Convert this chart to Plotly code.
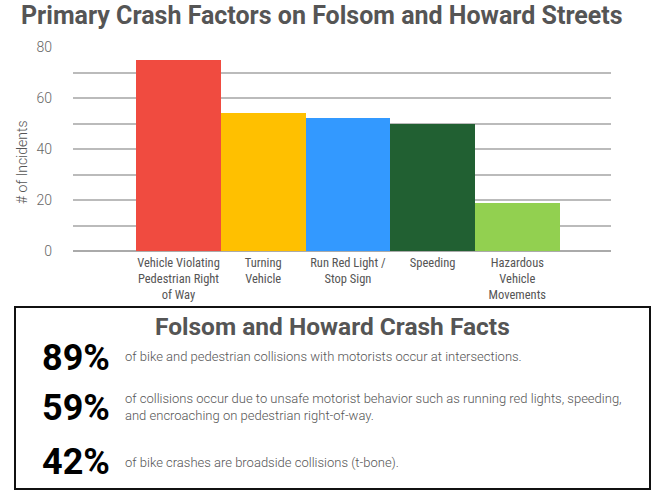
import plotly.graph_objects as go

categories = ["Vehicle Violating<br>Pedestrian Right<br>of Way", "Turning<br>Vehicle",
              "Run Red Light /<br>Stop Sign", "Speeding", "Hazardous<br>Vehicle<br>Movements"]
values = [75, 54, 52, 50, 19]
colors = ["#F04B40", "#FFC000", "#3399FF", "#216032", "#92D050"]
y_ticks = [0, 20, 40, 60, 80]

facts_pct = ["89%", "59%", "42%"]
facts_text = [
    "of bike and pedestrian collisions with motorists occur at intersections.",
    "of collisions occur due to unsafe motorist behavior such as running red lights, speeding,<br>and encroaching on pedestrian right-of-way.",
    "of bike crashes are broadside collisions (t-bone).",
]

W, H = 665, 503
def px(x): return x / W
def py(y): return 1 - y / H

NARROW = "Liberation Sans Narrow, Roboto Condensed, Roboto, sans-serif"
ROBOTO = "Roboto, sans-serif"

fig = go.Figure(go.Bar(
    x=list(range(len(categories))), y=values, marker=dict(color=colors, line=dict(width=0)),
    width=1.0, hoverinfo="skip",
))

fig.update_layout(
    width=W, height=H, margin=dict(l=0, r=0, t=0, b=0, pad=0, autoexpand=False),
    paper_bgcolor="white", plot_bgcolor="white", showlegend=False,
    bargap=0,
    xaxis=dict(domain=[px(73), px(611)], range=[-1.245, 5.106], automargin=False,
               tickvals=list(range(len(categories))), ticktext=categories,
               tickfont=dict(family=NARROW, size=12.5, color="#555555"),
               showgrid=False, zeroline=False, showline=False, ticks="", ticklen=0,
               ticklabelstandoff=2),
    yaxis=dict(domain=[py(251), py(47)], range=[0, 80], automargin=False,
               tickvals=list(range(0, 81, 10)),
               ticktext=[str(v) if v in y_ticks else "" for v in range(0, 81, 10)],
               tickfont=dict(family=ROBOTO, size=14, color="#666666", weight=300),
               gridcolor="#BBBBBB", gridwidth=1.5, zeroline=True, zerolinecolor="#AAAAAA",
               zerolinewidth=1.5, showline=False, ticks="", ticklabelstandoff=20),
)

ann = []
ann.append(dict(text="# of Incidents", x=px(22), y=py(162), textangle=-90,
                xref="paper", yref="paper", showarrow=False, xanchor="center", yanchor="middle",
                font=dict(family=ROBOTO, size=14, color="#555555", weight=300)))
ann.append(dict(text="<b>Primary Crash Factors on Folsom and Howard Streets</b>", x=px(322), y=py(16),
                xref="paper", yref="paper", showarrow=False, xanchor="center", yanchor="middle",
                font=dict(family=ROBOTO, size=25, color="#555555")))
ann.append(dict(text="<b>Folsom and Howard Crash Facts</b>", x=px(332), y=py(326),
                xref="paper", yref="paper", showarrow=False, xanchor="center", yanchor="middle",
                font=dict(family=ROBOTO, size=24.5, color="#555555")))
pct_y = [358, 408, 462]
txt_y = [356, 407, 462]
for p, t, yp, yt in zip(facts_pct, facts_text, pct_y, txt_y):
    ann.append(dict(text="<b>" + p + "</b>", x=px(40), y=py(yp), xref="paper", yref="paper",
                    showarrow=False, xanchor="left", yanchor="middle",
                    font=dict(family=ROBOTO, size=36, color="#000000")))
    ann.append(dict(text=t, x=px(123), y=py(yt), xref="paper", yref="paper", align="left",
                    showarrow=False, xanchor="left", yanchor="middle",
                    font=dict(family=ROBOTO, size=13, color="#555555", weight=300)))
fig.update_layout(annotations=ann)

fig.add_shape(type="rect", xref="paper", yref="paper", x0=px(15), x1=px(650), y0=py(489), y1=py(307),
              line=dict(color="#111111", width=2), fillcolor="rgba(0,0,0,0)")

fig.write_html("out.html", config={"displayModeBar": False},
               post_script="document.body.style.margin='0';document.body.style.overflow='hidden';")
